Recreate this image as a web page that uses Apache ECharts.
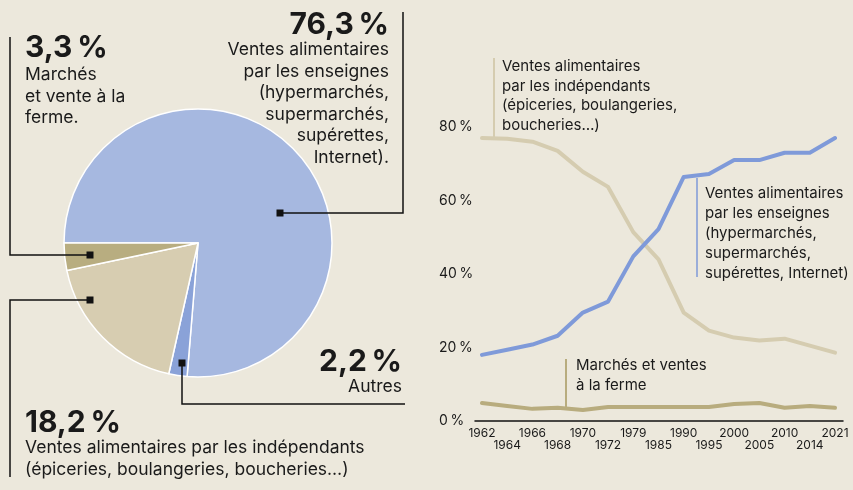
<!DOCTYPE html>
<html><head><meta charset="utf-8">
<script src="https://cdn.jsdelivr.net/npm/echarts@6/dist/echarts.min.js"></script>
<style>html,body{margin:0;padding:0;background:#ece8dc;}#c{width:853px;height:490px;}</style>
</head><body><div id="c"></div>
<script>
// ---- data ----
const pieNames = ['Ventes alimentaires par les enseignes', 'Autres', 'Ventes alimentaires par les indépendants', 'Marchés et vente à la ferme'];
const pieValues = [76.3, 2.2, 18.2, 3.3];
const pieColors = ['#a6b8e0', '#8aa2d8', '#d7cdb1', '#b8ad80'];

const years = ['1962','1964','1966','1968','1970','1972','1979','1985','1990','1995','2000','2005','2010','2014','2021'];
const enseignes =    [18.0,19.4,20.8,23.2,29.5,32.5,44.8,52.2,66.4,67.2,71.0,71.0,73.0,73.0,77.0];
const independants = [77.0,76.8,76.0,73.5,67.8,63.7,51.4,44.0,29.5,24.6,22.7,21.9,22.4,20.5,18.6];
const marches =      [4.9,4.1,3.3,3.6,3.0,3.8,3.8,3.8,3.8,3.8,4.6,4.9,3.6,4.1,3.6];
const yTicks = [0, 20, 40, 60, 80];

const FONT = 'Inter, "Noto Sans", sans-serif';
const TXT = '#1a1a1a';
const NS = '\u2009';
const chart = echarts.init(document.getElementById('c'), null, {renderer:'canvas'});

function txt(x, y, text, size, align, lh, bold) {
  return {type:'text', x:x, y:y, z:100, silent:true, style:{text:text, font:(bold?'bold ':'')+size+'px '+FONT, fill:TXT, textAlign:align, textVerticalAlign:'top', lineHeight:lh}};
}
function pl(points, color, w) {
  return {type:'polyline', z:100, silent:true, shape:{points:points}, style:{stroke:color, lineWidth:w, fill:null}};
}
function sq(x, y) {
  return {type:'rect', z:100, silent:true, shape:{x:x-3.5, y:y-3.5, width:7, height:7}, style:{fill:'#111'}};
}

const option = {
  backgroundColor:'#ece8dc',
  animation:false,
  textStyle:{fontFamily:FONT},
  grid:[
    {left:482, right:18, top:127, bottom:69},
    {left:475, right:10, top:127, bottom:69}
  ],
  xAxis:[
    {type:'category', gridIndex:0, data:years, boundaryGap:false,
     axisLine:{show:false}, axisTick:{show:false}, splitLine:{show:false},
     axisLabel:{interval:0, hideOverlap:false, margin:6, fontSize:12, lineHeight:12, color:TXT, fontFamily:FONT,
       formatter:function(v, i){ return i % 2 ? '\n' + v : v; }}},
    {type:'value', gridIndex:1, min:0, max:1,
     axisLine:{show:true, lineStyle:{color:'#111', width:1.5}}, axisTick:{show:false}, axisLabel:{show:false}, splitLine:{show:false}}
  ],
  yAxis:[
    {type:'value', gridIndex:0, min:yTicks[0], max:yTicks[yTicks.length-1], interval:20,
     axisLine:{show:false}, axisTick:{show:false}, splitLine:{show:false},
     axisLabel:{align:'left', margin:43, fontSize:14, color:TXT, fontFamily:FONT, formatter:function(v){return v + NS + '%';}}},
    {type:'value', gridIndex:1, min:0, max:80, show:false}
  ],
  series:[
    {type:'pie', center:[198,243], radius:134, startAngle:180, clockwise:true, silent:true,
     label:{show:false}, labelLine:{show:false},
     itemStyle:{borderColor:'#ffffff', borderWidth:1.5},
     data:pieNames.map((n,i)=>({name:n, value:pieValues[i], itemStyle:{color:pieColors[i]}}))},
    {type:'line', xAxisIndex:0, yAxisIndex:0, data:independants, showSymbol:false, silent:true,
     lineStyle:{color:'#d5ccb0', width:4, cap:'round', join:'round'}},
    {type:'line', xAxisIndex:0, yAxisIndex:0, data:marches, showSymbol:false, silent:true,
     lineStyle:{color:'#b8ac7e', width:4, cap:'round', join:'round'}},
    {type:'line', xAxisIndex:0, yAxisIndex:0, data:enseignes, showSymbol:false, silent:true,
     lineStyle:{color:'#7f9ad9', width:4, cap:'round', join:'round'}}
  ],
  graphic:[
    // pie annotations
    pl([[403,12],[403,213],[280,213]], '#111', 1.5), sq(280,213),
    pl([[10,37],[10,255],[90,255]], '#111', 1.5), sq(90,255),
    pl([[10,477],[10,300],[90,300]], '#111', 1.5), sq(90,300),
    pl([[182,363],[182,404],[405,404]], '#111', 1.5), sq(182,363),
    txt(389, 9, '76,3' + NS + '%', 30, 'right', 32, true),
    txt(389, 39, 'Ventes alimentaires\npar les enseignes\n(hypermarchés,\nsupermarchés,\nsupérettes,\nInternet).', 17.5, 'right', 21.5),
    txt(25, 32, '3,3' + NS + '%', 30, 'left', 32, true),
    txt(25, 64, 'Marchés\net vente à la\nferme.', 17.5, 'left', 21.5),
    txt(25, 407, '18,2' + NS + '%', 30, 'left', 32, true),
    txt(25, 437, 'Ventes alimentaires par les indépendants\n(épiceries, boulangeries, boucheries…)', 17.5, 'left', 22),
    txt(402, 346, '2,2' + NS + '%', 30, 'right', 32, true),
    txt(402, 376, 'Autres', 17.5, 'right', 21.5),
    // line annotations
    pl([[494,58],[494,138]], '#d5ccb0', 2),
    txt(502, 57, 'Ventes alimentaires\npar les indépendants\n(épiceries, boulangeries,\nboucheries…)', 15, 'left', 19.5),
    pl([[697,178],[697,277]], '#7f9ad9', 1.5),
    txt(705, 183, 'Ventes alimentaires\npar les enseignes\n(hypermarchés,\nsupermarchés,\nsupérettes, Internet)', 15, 'left', 20),
    pl([[566,359],[566,408]], '#b8ac7e', 2),
    txt(576, 355, 'Marchés et ventes\nà la ferme', 15, 'left', 20)
  ]
};
chart.setOption(option);
</script></body></html>
